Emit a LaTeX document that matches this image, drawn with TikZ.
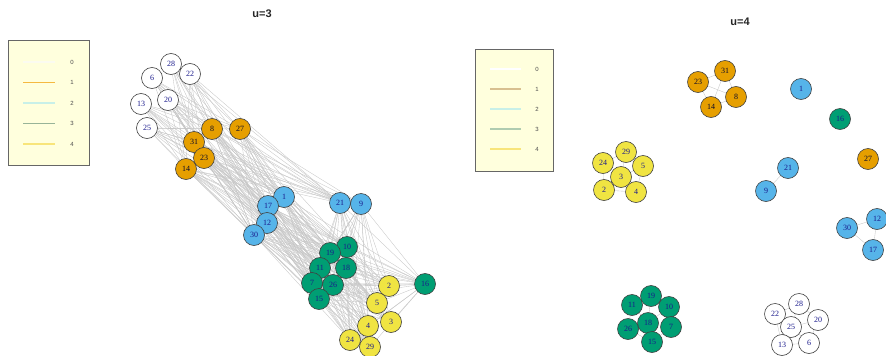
\documentclass[tikz,border=0pt]{standalone}
\usepackage{fontspec}
\setmainfont{Liberation Serif}
\newfontfamily\sansf{Liberation Sans}
\usetikzlibrary{backgrounds}
\definecolor{cOr}{HTML}{E69F00}
\definecolor{cBl}{HTML}{56B4E9}
\definecolor{cGr}{HTML}{009E73}
\definecolor{cYe}{HTML}{F0E442}
\definecolor{lab}{HTML}{1A1A8C}
\definecolor{legbg}{HTML}{FFFFDD}
\definecolor{lg0}{HTML}{FBFBF0}
\definecolor{lg1}{HTML}{F5B940}
\definecolor{lg2}{HTML}{C8F0E8}
\definecolor{lg3}{HTML}{98B498}
\definecolor{lg4}{HTML}{F8E57A}
\definecolor{rg1}{HTML}{D8C090}
\definecolor{rg3}{HTML}{B0CCB0}
\tikzset{
  vtx/.style={circle,draw=black!75,line width=0.6pt,minimum size=21pt,inner sep=0pt,font=\fontsize{8}{8}\selectfont,text=lab},
  vw/.style={vtx,fill=white},
  vo/.style={vtx,fill=cOr,text=black!70!lab},
  vb/.style={vtx,fill=cBl},
  vg/.style={vtx,fill=cGr},
  vy/.style={vtx,fill=cYe},
  edge/.style={draw=gray!45,line width=0.35pt},
  legbox/.style={draw=gray!80!black,line width=0.7pt,fill=legbg},
  legline/.style={line width=1.1pt},
  leglab/.style={font=\sansf\fontsize{6}{6}\selectfont,text=black!70},
  ttl/.style={font=\sansf\bfseries\fontsize{11}{11}\selectfont,text=black!85}
}
\begin{document}
\begin{tikzpicture}[x=1pt,y=-1pt]
\useasboundingbox (0,0) rectangle (886,356);
% titles
\node[ttl] (t3) at (262,14) {u=3};
\node[ttl] (t4) at (740,22) {u=4};
% left legend
\node[legbox,minimum width=81pt,minimum height=125pt,inner sep=0pt] (leg1) at (48.5,102.5) {};
\foreach \i/\c in {0/lg0,1/lg1,2/lg2,3/lg3,4/lg4}{
  \coordinate (l1a\i) at (23,{62+20.5*\i});
  \coordinate (l1b\i) at (55,{62+20.5*\i});
  \draw[legline,\c] (l1a\i) -- (l1b\i);
  \node[leglab] (l1t\i) at (72,{62+20.5*\i}) {\i};
}
% right legend
\node[legbox,minimum width=78pt,minimum height=122pt,inner sep=0pt] (leg2) at (514,110) {};
\foreach \i/\c in {0/white,1/rg1,2/lg2,3/rg3,4/lg4}{
  \coordinate (l2a\i) at (490,{69+20*\i});
  \coordinate (l2b\i) at (521,{69+20*\i});
  \draw[legline,\c] (l2a\i) -- (l2b\i);
  \node[leglab] (l2t\i) at (537,{69+20*\i}) {\i};
}
% left graph nodes
\foreach \n/\x/\y/\s in {28/171/64/vw,22/190/74/vw,6/152/78/vw,20/168/100/vw,13/141/104/vw,25/147/128/vw,
  8/212/129/vo,27/240/129/vo,31/194/142/vo,23/204/158/vo,14/186/169/vo,
  1/284/197/vb,17/268/206/vb,12/267/223/vb,30/254/235/vb,21/340/203/vb,9/361/204/vb,
  10/347/247/vg,19/330/253/vg,11/320/268/vg,18/346/268/vg,7/312/283/vg,26/333/285/vg,15/319/299/vg,16/425/284/vg,
  2/389/286/vy,5/377/303/vy,3/391/322/vy,4/368/326/vy,24/350/340/vy,29/370/347/vy}{
  \node[\s] (L\n) at (\x,\y) {\n};
}
% right graph nodes
\foreach \n/\x/\y/\s in {23/698/82/vo,31/725/71/vo,8/736/97/vo,14/711/107/vo,27/868/159/vo,
  1/801/89/vb,21/788/168/vb,9/766/191/vb,12/877/219/vb,30/847/228/vb,17/873/250/vb,
  16/840/119/vg,19/651/296/vg,11/632/305/vg,10/669/307/vg,18/648/323/vg,26/628/329/vg,7/671/327/vg,15/652/342/vg,
  29/626/152/vy,24/603/163/vy,5/643/166/vy,3/621/177/vy,2/604/190/vy,4/636/192/vy,
  28/799/304/vw,22/775/314/vw,20/818/320/vw,25/791/327/vw,13/782/345/vw,6/809/343/vw}{
  \node[\s] (R\n) at (\x,\y) {\n};
}
\begin{pgfonlayer}{background}
% left edges
\foreach \a in {28,22,6,20,13,25}{
  \foreach \b in {8,27,31,23,14,1,17,12,30,21}{\draw[edge] (L\a) -- (L\b);}}
\foreach \a in {8,27,31,23,14}{
  \foreach \b in {1,17,12,30,21,9,10,19,11,18,7,26,15}{\draw[edge] (L\a) -- (L\b);}}
\foreach \a in {1,17,12,30,21,9}{
  \foreach \b in {10,19,11,18,7,26,15,2,5,3,4,24,29,16}{\draw[edge] (L\a) -- (L\b);}}
\foreach \a in {10,19,11,18,7,26,15,16}{
  \foreach \b in {2,5,3,4,24,29}{\draw[edge] (L\a) -- (L\b);}}
\foreach \b in {10,19,11,18,7,26,15}{\draw[edge] (L16) -- (L\b);}
\foreach \a/\b in {25/8,25/31}{\draw[edge] (L\a) -- (L\b);}
% right edges
\foreach \a/\b in {23/31,31/8,8/14,14/23,23/8,31/14,21/9,30/12,12/17,30/17}{\draw[edge] (R\a) -- (R\b);}
\foreach \b in {29,24,5,2,4}{\draw[edge] (R3) -- (R\b);}
\foreach \a/\b in {29/5,5/4,4/2,2/24,24/29}{\draw[edge] (R\a) -- (R\b);}
\foreach \b in {19,11,10,26,7,15}{\draw[edge] (R18) -- (R\b);}
\foreach \a/\b in {19/10,10/7,7/15,15/26,26/11,11/19}{\draw[edge] (R\a) -- (R\b);}
\foreach \b in {28,22,20,13,6}{\draw[edge] (R25) -- (R\b);}
\foreach \a/\b in {28/20,20/6,6/13,13/22,22/28}{\draw[edge] (R\a) -- (R\b);}
\end{pgfonlayer}
\end{tikzpicture}
\end{document}
